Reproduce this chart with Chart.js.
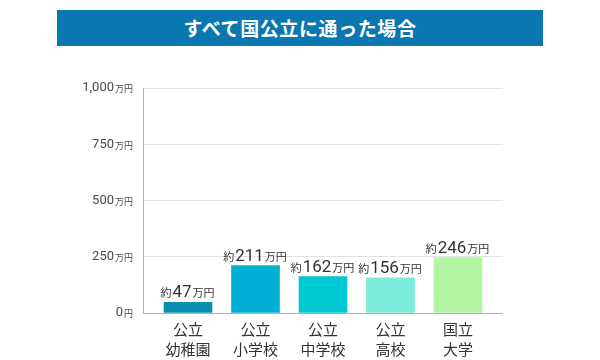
<!DOCTYPE html>
<html lang="ja">
<head>
<meta charset="UTF-8">
<title>すべて国公立に通った場合</title>
<script src="https://cdn.jsdelivr.net/npm/chart.js"></script>
<style>
    body { margin: 0; background: #fff; }
    #wrap { position: relative; width: 600px; height: 360px; }
    #banner {
        position: absolute;
        left: 57px; top: 10px;
        width: 486px; height: 36px;
        background: #0a77b0;
        color: #fff;
        font: bold 19px "Noto Sans CJK JP", sans-serif;
        line-height: 36px;
        text-align: center;
        letter-spacing: 0.6px;
    }
    canvas { position: absolute; left: 0; top: 0; }
</style>
</head>
<body>
<div id="wrap">
    <canvas id="costChart" width="600" height="360"></canvas>
    <div id="banner">すべて国公立に通った場合</div>
</div>
<script>
    // data
    var categories = [['公立', '幼稚園'], ['公立', '小学校'], ['公立', '中学校'], ['公立', '高校'], ['国立', '大学']];
    var costs = [47, 211, 162, 156, 246];       // 万円
    var yTicks = [0, 250, 500, 750, 1000];

    var barColors = ['#0e8db3', '#00b0d4', '#00c8d2', '#7aecd8', '#b3f4a5'];
    var jp = '"Noto Sans CJK JP", sans-serif';
    var num = 'Roboto, "Noto Sans CJK JP", sans-serif';

    // y tick labels and bar labels use two font sizes, so draw them here
    var labelPlugin = {
        id: 'mixedLabels',
        afterDraw: function(chart) {
            var c = chart.ctx;
            var y = chart.scales.y;
            c.save();
            c.textBaseline = 'middle';
            c.fillStyle = '#4a4a4a';
            yTicks.forEach(function(v) {
                var py = y.getPixelForValue(v);
                var suffix = v === 0 ? '円' : '万円';
                c.font = '9px ' + jp;
                var sw = c.measureText(suffix).width;
                c.textAlign = 'right';
                c.fillText(suffix, 133, py + 1);
                c.font = '13px ' + num;
                c.fillText(v.toLocaleString('en-US'), 133 - sw - 1, py);
            });

            c.fillStyle = '#333';
            c.textBaseline = 'alphabetic';
            c.textAlign = 'left';
            chart.getDatasetMeta(0).data.forEach(function(bar, i) {
                var parts = [['約', '11px ' + jp], [String(costs[i]), '17px ' + num], ['万円', '11px ' + jp]];
                var total = 0;
                parts.forEach(function(p) { c.font = p[1]; total += c.measureText(p[0]).width + 1; });
                var x = bar.x - total / 2;
                parts.forEach(function(p) {
                    c.font = p[1];
                    c.fillText(p[0], x, bar.y - 5);
                    x += c.measureText(p[0]).width + 1;
                });
            });
            c.restore();
        }
    };

    new Chart(document.getElementById('costChart'), {
        type: 'bar',
        data: {
            labels: categories,
            datasets: [{
                data: costs,
                backgroundColor: barColors,
                borderWidth: 0,
                barThickness: 48
            }]
        },
        options: {
            responsive: false,
            animation: false,
            layout: { padding: { left: 143, right: 97, top: 88, bottom: 0 } },
            plugins: { legend: { display: false }, tooltip: { enabled: false } },
            scales: {
                x: {
                    grid: { display: false, drawTicks: false },
                    border: { display: false },
                    ticks: {
                        color: '#333',
                        padding: 6,
                        font: { family: jp, size: 15, lineHeight: 1.35 },
                        maxRotation: 0,
                        autoSkip: false
                    },
                    afterBuildTicks: function(s) {
                        // side margin of 2/3 of a category slot each side
                        s._startValue = -2 / 3;
                        s._valueRange = 4 + 4 / 3;
                    },
                    afterFit: function(s) { s.height = 47; }
                },
                y: {
                    min: 0,
                    max: 1000,
                    ticks: { stepSize: 250, display: false },
                    grid: {
                        drawTicks: false,
                        color: function(ctx) { return ctx.tick && ctx.tick.value === 0 ? '#b0b0b0' : '#e2e2e2'; }
                    },
                    border: { display: true, color: '#b0b0b0', width: 1 },
                    afterFit: function(s) { s.width = 0; }
                }
            }
        },
        plugins: [labelPlugin]
    });
</script>
</body>
</html>
